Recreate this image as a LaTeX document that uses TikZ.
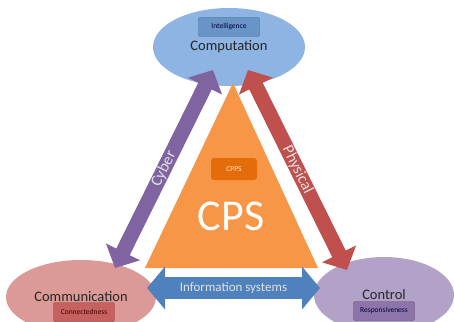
\documentclass[tikz,border=0pt]{standalone}
\usepackage{fontspec}
\setmainfont{Carlito}
\usetikzlibrary{positioning,shapes.geometric,arrows.meta}

\definecolor{compblue}{HTML}{8EB4E3}
\definecolor{commpink}{HTML}{DB9A98}
\definecolor{ctrllilac}{HTML}{B3A2C7}
\definecolor{cpsorange}{HTML}{F79646}
\definecolor{cppsorange}{HTML}{E46C0A}
\definecolor{cyberpurple}{HTML}{8064A2}
\definecolor{physred}{HTML}{C0504D}
\definecolor{infoblue}{HTML}{4F81BD}

\begin{document}
\begin{tikzpicture}[x=1pt,y=-1pt,font=\small]
  \tikzset{
    hub/.style={ellipse,inner sep=0pt,text=black!85,
      font=\fontsize{14.5}{16}\selectfont},
    tag/.style={draw,rounded corners=2pt,minimum width=61pt,minimum height=19pt,
      inner sep=0pt,font=\fontsize{7.5}{9}\selectfont},
    link/.style={line width=15pt,
      {Triangle[length=18pt,width=37pt]}-{Triangle[length=18pt,width=37pt]}},
    linktext/.style={text=white!88!black,font=\fontsize{16}{18}\selectfont},
  }

  \useasboundingbox (0,0) rectangle (454,321);
  \fill[white] (0,0) rectangle (454,321);
  \clip (0,0) rectangle (454,321);

  % the three corners
  \node[hub,fill=compblue,minimum width=152pt,minimum height=78pt]
    (comp) at (229,47) {Computation};
  \node[hub,fill=commpink,minimum width=150pt,minimum height=74pt]
    (comm) at (81,297) {Communication};
  \node[hub,fill=ctrllilac,minimum width=140pt,minimum height=76pt]
    (ctrl) at (384,295) {Control};

  % their properties
  \node[tag,fill=infoblue!85!white,draw=infoblue!80!black,text=black!80!blue]
    (intel) at (229,27) {Intelligence};
  \node[tag,fill=physred!90!white,draw=physred!80!black,text=black!75!red]
    (conn) at (84,312) {Connectedness};
  \node[tag,fill=cyberpurple!90!white,draw=cyberpurple!70!black,text=black!80!blue]
    (resp) at (384,311) {Responsiveness};

  % CPS triangle
  \fill[cpsorange] (233,83) -- (318,268) -- (145,268) -- cycle;
  \node[fill=cppsorange,rounded corners=3pt,minimum width=46pt,minimum height=22pt,
    inner sep=0pt,text=white!85!orange,font=\fontsize{7.5}{9}\selectfont]
    (cpps) at (234,169) {CPPS};
  \node[text=white,font=\fontsize{44}{48}\selectfont] (cps) at (231,216) {CPS};

  % links between the corners
  \coordinate (cyb-top) at (213,70);
  \coordinate (cyb-bot) at (115,268);
  \coordinate (phy-top) at (248,70);
  \coordinate (phy-bot) at (347,270);
  \coordinate (info-l) at (147,288);
  \coordinate (info-r) at (320,288);

  \draw[link,cyberpurple] (cyb-bot) -- node[sloped,linktext] {Cyber} (cyb-top);
  \draw[link,physred] (phy-top) -- node[sloped,linktext] {Physical} (phy-bot);
  \draw[link,infoblue,line width=22pt,
    {Triangle[length=18pt,width=42pt]}-{Triangle[length=18pt,width=42pt]}]
    (info-l) -- node[linktext,font=\fontsize{13}{15}\selectfont] {Information systems} (info-r);

\end{tikzpicture}
\end{document}
